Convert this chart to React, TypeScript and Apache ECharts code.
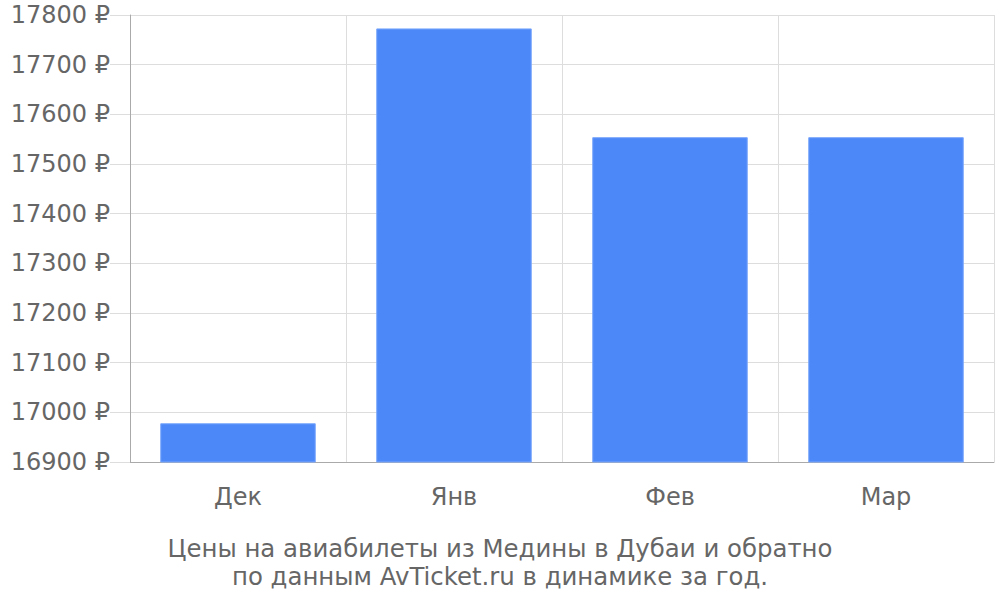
import React, { useEffect, useRef } from "react";
import * as echarts from "echarts";

const categories = ["Дек", "Янв", "Фев", "Мар"];
const prices = [16978, 17773, 17554, 17554];
const titleLines = [
  "Цены на авиабилеты из Медины в Дубаи и обратно",
  "по данным AvTicket.ru в динамике за год.",
];

export default function App() {
  const ref = useRef<HTMLDivElement>(null);
  useEffect(() => {
    const chart = echarts.init(ref.current!, null, { renderer: "svg" });
    const font = "DejaVu Sans";
    chart.setOption({
      animation: false,
      title: {
        text: titleLines.join("\n"),
        left: "center",
        top: 529,
        textStyle: {
          fontFamily: font,
          fontSize: 24.4,
          lineHeight: 28,
          fontWeight: "normal",
          color: "#666",
        },
      },
      grid: { left: 130, right: 6, top: 15, bottom: 138 },
      xAxis: {
        type: "category",
        data: categories,
        axisLine: { lineStyle: { color: "#aaa" } },
        axisTick: { length: 19, lineStyle: { color: "#ccc" } },
        splitLine: { show: true, lineStyle: { color: "#ddd" } },
        axisLabel: { fontFamily: font, fontSize: 24, color: "#666", margin: 23 },
      },
      yAxis: {
        type: "value",
        min: 16900,
        max: 17800,
        interval: 100,
        axisLine: { show: true, lineStyle: { color: "#aaa" } },
        axisTick: { show: true, length: 20, lineStyle: { color: "#ddd" } },
        splitLine: { lineStyle: { color: "#ddd" } },
        axisLabel: {
          fontFamily: font,
          fontSize: 24,
          color: "#666",
          margin: 20,
          formatter: (v: number) => `${v} ₽`,
        },
      },
      series: [
        {
          type: "bar",
          data: prices,
          barCategoryGap: "28%",
          itemStyle: { color: "#4d88f9", borderColor: "#7aa7fb", borderWidth: 1 },
        },
      ],
    });
    return () => chart.dispose();
  }, []);
  return (
    <div
      ref={ref}
      style={{ width: 1000, height: 600, position: "absolute", left: 0, top: 0 }}
    />
  );
}
